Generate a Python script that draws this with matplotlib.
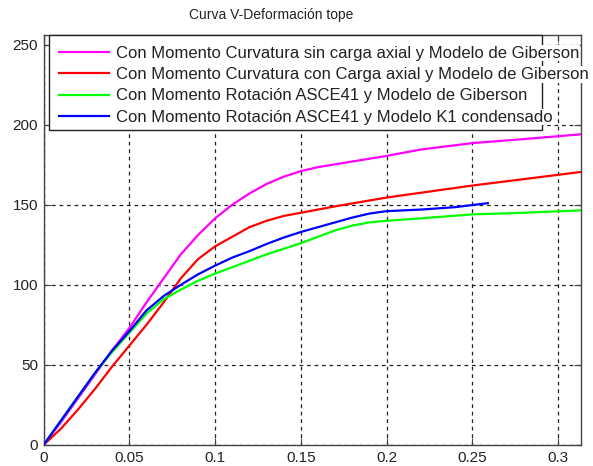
"""Curva V-Deformación tope: cuatro modelos comparados."""

import matplotlib
matplotlib.use("Agg")
import matplotlib.pyplot as plt
from matplotlib.patches import Rectangle

plt.rcParams['font.family'] = ['Liberation Sans', 'DejaVu Sans']

# Datos (deformación tope, cortante V)
X_MAGENTA = [0, 0.01, 0.02, 0.03, 0.04, 0.05, 0.06, 0.07, 0.08, 0.09, 0.10, 0.11,
             0.12, 0.13, 0.14, 0.15, 0.16, 0.18, 0.20, 0.22, 0.25, 0.28, 0.3134]
Y_MAGENTA = [0, 14, 29, 44, 59, 73, 89, 104, 119, 131, 141.5, 150,
             157, 163, 167.5, 171, 173.5, 177, 180.5, 184.5, 188.5, 191, 194]

X_RED = [0, 0.01, 0.02, 0.03, 0.04, 0.05, 0.06, 0.07, 0.08, 0.09, 0.10, 0.11,
         0.12, 0.13, 0.14, 0.15, 0.17, 0.20, 0.22, 0.25, 0.28, 0.3134]
Y_RED = [0, 10, 22, 35, 49, 62, 75, 89, 104, 116, 124, 130,
         136, 140, 143, 145, 149, 154.5, 157.5, 162, 166, 170.5]

X_GREEN = [0, 0.01, 0.02, 0.03, 0.04, 0.05, 0.06, 0.07, 0.08, 0.09, 0.10, 0.11,
           0.12, 0.13, 0.14, 0.15, 0.16, 0.17, 0.18, 0.19, 0.20, 0.22, 0.25, 0.28, 0.3134]
Y_GREEN = [0, 15, 30, 45, 58, 70, 82, 91, 97, 102.5, 107, 111,
           115, 119, 122.5, 126, 130, 134, 137, 139, 140, 141.5, 144, 145, 146.5]

X_BLUE = [0, 0.01, 0.02, 0.03, 0.04, 0.05, 0.06, 0.07, 0.08, 0.09, 0.10, 0.11,
          0.12, 0.13, 0.14, 0.15, 0.16, 0.17, 0.18, 0.19, 0.20, 0.22, 0.24, 0.259]
Y_BLUE = [0, 15, 30, 45, 59, 71, 84, 93, 100, 106.5, 112, 117,
          121, 125.5, 129.5, 133, 136, 139, 142, 144.5, 146, 147, 148.5, 151]

LABELS = [
    "Con Momento Curvatura sin carga axial y Modelo de Giberson",
    "Con Momento Curvatura con Carga axial y Modelo de Giberson",
    "Con Momento Rotación ASCE41 y Modelo de Giberson",
    "Con Momento Rotación ASCE41 y Modelo K1 condensado",
]
COLORS = ["#ff00ff", "#ff0000", "#00ff00", "#0000ff"]

XTICKS = [0, 0.05, 0.1, 0.15, 0.2, 0.25, 0.3]
XTICKLABELS = ["0", "0.05", "0.1", "0.15", "0.2", "0.25", "0.3"]
YTICKS = [0, 50, 100, 150, 200, 250]

TEXT_COLOR = "#222222"

fig = plt.figure(figsize=(5.93, 4.66), dpi=100)
ax = fig.add_axes([0.0734, 0.0451, 0.9066, 0.8798])

series = [(X_MAGENTA, Y_MAGENTA), (X_RED, Y_RED), (X_GREEN, Y_GREEN), (X_BLUE, Y_BLUE)]
handles = []
for (xs, ys), color, label in zip(series, COLORS, LABELS):
    h, = ax.plot(xs, ys, color=color, linewidth=1.6, label=label, zorder=3)
    handles.append(h)

ax.set_xlim(0, 0.3134)
ax.set_ylim(0, 256)
ax.set_xticks(XTICKS)
ax.set_xticklabels(XTICKLABELS)
ax.set_yticks(YTICKS)
ax.tick_params(direction='in', top=True, right=True, length=5, width=0.8,
               labelsize=11, labelcolor=TEXT_COLOR, color="#444444", pad=4)
ax.grid(True, color="#222222", linestyle=(0, (3, 3)), linewidth=0.9)
for sp in ax.spines.values():
    sp.set_color("#444444")
    sp.set_linewidth(1.0)

# caja de la leyenda (más estrecha que los textos, como en el original)
ax.add_patch(Rectangle((0.0102, 0.768), 0.917, 0.232, transform=ax.transAxes,
                       facecolor="white", edgecolor="#222222", linewidth=1.0,
                       zorder=4, clip_on=False))
leg = ax.legend(handles=handles, loc="upper left", bbox_to_anchor=(0.008, 1.0),
                frameon=False, fontsize=12, handlelength=3.0,
                handletextpad=0.45, labelspacing=0.38, borderaxespad=0.25)
leg.set_zorder(5)
for t in leg.get_texts():
    t.set_color(TEXT_COLOR)
    t.set_bbox(dict(facecolor="white", edgecolor="none", pad=0.5))
for ln in leg.get_lines():
    ln.set_linewidth(1.6)

fig.text(0.457, 0.968, "Curva V-Deformación tope", ha="center", va="center",
         fontsize=10, color=TEXT_COLOR)

fig.savefig("out.png", dpi=100)
